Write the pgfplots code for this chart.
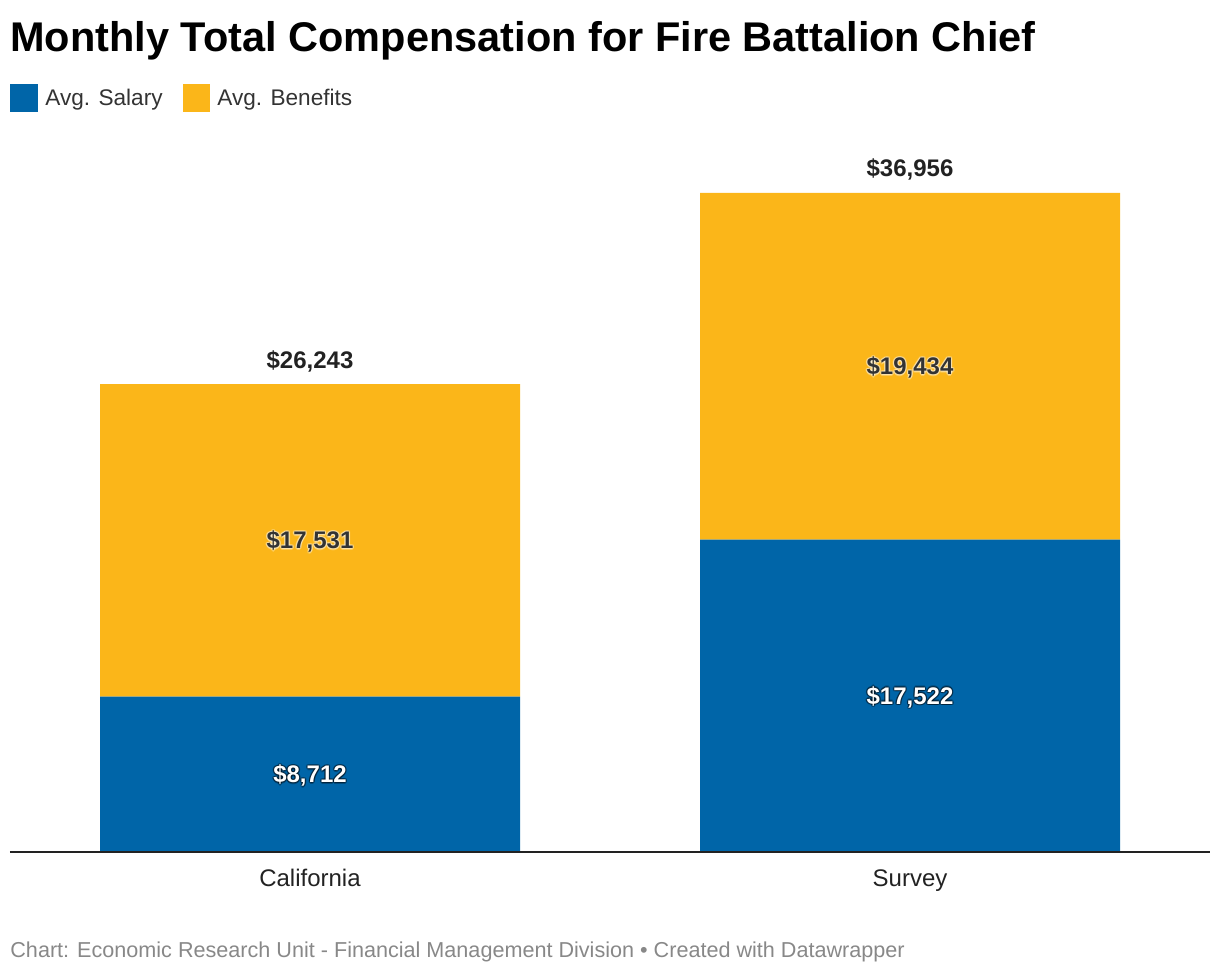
\documentclass[border=0pt]{standalone}
\usepackage{pgfplots}
\pgfplotsset{compat=1.18}
\usepackage{fontspec}
\setmainfont{Liberation Sans}
\definecolor{salblue}{HTML}{0065A8}
\definecolor{benyel}{HTML}{FBB619}
\definecolor{darktxt}{HTML}{333333}
\definecolor{axisdark}{HTML}{222222}
\definecolor{footgray}{HTML}{888888}
\newcommand{\lbl}[4]{% #1 coordinate name, #2 text, #3 text colour, #4 glow colour
  \foreach \dx/\dy in {-0.7/0,0.7/0,0/-0.7,0/0.7,-0.5/-0.5,0.5/0.5,-0.5/0.5,0.5/-0.5}{
    \node[anchor=base, inner sep=0pt, text=#4, opacity=0.28, xshift=\dx pt, yshift={\dy pt-4.3pt}, font=\fontsize{12}{14}\selectfont\bfseries] at (#1) {#2};
  }
  \node[anchor=base, inner sep=0pt, text=#3, yshift=-4.3pt, font=\fontsize{12}{14}\selectfont\bfseries] at (#1) {#2};
}
\begin{document}
\begin{tikzpicture}
\path[use as bounding box] (0,0) rectangle (610pt,487pt);
% title
\node[anchor=base west, inner sep=0pt] at (5pt,461pt) {\resizebox{512.5pt}{!}{\bfseries Monthly Total Compensation for Fire Battalion Chief}};
% legend
\fill[salblue] (5pt,431pt) rectangle (19pt,445pt);
\node[anchor=base west, inner sep=0pt, text=darktxt, font=\fontsize{11.3}{13}\selectfont] at (22.5pt,434pt) {Avg. Salary};
\fill[benyel] (91.5pt,431pt) rectangle (105pt,445pt);
\node[anchor=base west, inner sep=0pt, text=darktxt, font=\fontsize{11.3}{13}\selectfont] at (108.5pt,434pt) {Avg. Benefits};
\begin{axis}[
  at={(5pt,61pt)}, anchor=south west,
  scale only axis, width=600pt, height=329.5pt,
  xmin=-0.5, xmax=1.5, ymin=0, ymax=36956,
  ybar stacked, bar width=210pt,
  axis y line=none,
  axis x line*=bottom,
  x axis line style={draw=axisdark, line width=1pt, -},
  xtick={0,1}, xticklabels={California,Survey},
  major tick length=0pt,
  xticklabel style={anchor=base, yshift=-17.25pt, text=axisdark, font=\fontsize{12}{14}\selectfont},
  clip=false,
]
\addplot[fill=salblue, draw=none] coordinates {(0,8712) (1,17522)};
\addplot[fill=benyel, draw=none] coordinates {(0,17531) (1,19434)};
\coordinate (s0) at (axis cs:0,4356);
\coordinate (s1) at (axis cs:1,8761);
\coordinate (b0) at (axis cs:0,17477.5);
\coordinate (b1) at (axis cs:1,27239);
\coordinate (t0) at (axis cs:0,26243);
\coordinate (t1) at (axis cs:1,36956);
\end{axis}
\draw[axisdark, line width=1pt] (5pt,61pt) -- (605pt,61pt);
\lbl{s0}{\$8,712}{white}{black}
\lbl{s1}{\$17,522}{white}{black}
\lbl{b0}{\$17,531}{darktxt}{white}
\lbl{b1}{\$19,434}{darktxt}{white}
\node[anchor=base, inner sep=0pt, yshift=8pt, text=axisdark, font=\fontsize{12}{14}\selectfont\bfseries] at (t0) {\$26,243};
\node[anchor=base, inner sep=0pt, yshift=8pt, text=axisdark, font=\fontsize{12}{14}\selectfont\bfseries] at (t1) {\$36,956};
% footer
\node[anchor=base west, inner sep=0pt, text=footgray, font=\fontsize{10.8}{13}\selectfont] at (5pt,8.5pt) {Chart: Economic Research Unit - Financial Management Division \textbullet{} Created with Datawrapper};
\end{tikzpicture}
\end{document}
